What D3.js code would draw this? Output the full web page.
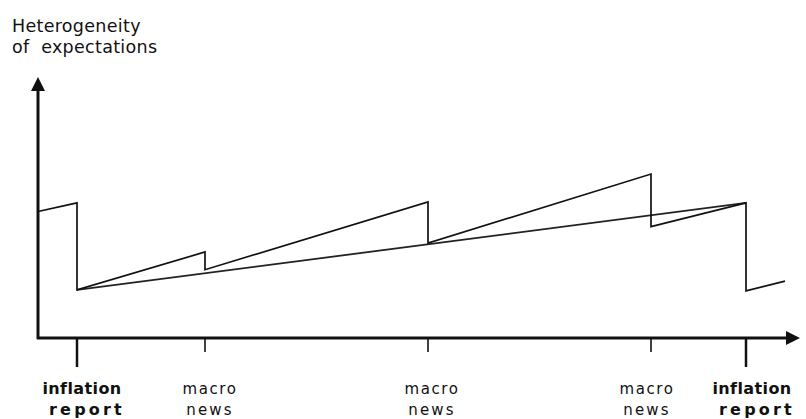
<!DOCTYPE html>
<html>
<head>
<meta charset="utf-8">
<script src="https://cdn.jsdelivr.net/npm/d3@7"></script>
<style>
  html, body { margin: 0; padding: 0; background: #fff; }
  svg { display: block; }
  text { font-family: "DejaVu Sans", Verdana, sans-serif; fill: #111; }
</style>
</head>
<body>
<svg id="chart" width="806" height="419"></svg>
<script>
// ---- data ----
const titleLines = ["Heterogeneity", "of\u00a0 expectations"];
// event times (arbitrary time units along the horizontal axis)
const eventTimes = [3.9, 16.7, 39.0, 61.3, 70.8];
const eventLabels = [["inflation", "report"], ["macro", "news"], ["macro", "news"], ["macro", "news"], ["inflation", "report"]];
const eventMajor = [true, false, false, false, true];
// sawtooth path of heterogeneity (time, value)
const sawTimes  = [0, 3.9, 3.9, 16.7, 16.7, 39.0, 39.0, 61.3, 61.3, 70.8, 70.8, 74.7];
const sawValues = [50, 53.4, 19, 34, 27, 53.8, 37.5, 64.8, 44, 53.4, 18.6, 22.5];
// smooth trend between the two inflation reports
const trendTimes  = [3.9, 70.8];
const trendValues = [19, 53.4];

// ---- layout ----
const labelShift = [[5, 10], [5, 5], [4, 4], [-4, -4], [6, 11]]; // px offsets of label lines from tick
const svg = d3.select("#chart");
const x = d3.scaleLinear().domain([0, 76]).range([38, 798]);
const y = d3.scaleLinear().domain([0, 100]).range([338, 85]);

// title
svg.selectAll("text.title").data(titleLines).join("text")
  .attr("class", "title")
  .attr("x", 12).attr("y", (d, i) => 32 + i * 21)
  .attr("font-size", 17.5).attr("letter-spacing", 0.3)
  .text(d => d);

// axes
const axisColor = "#111";
svg.append("line").attr("x1", x(0)).attr("x2", x(0)).attr("y1", y(0) + 1).attr("y2", 88)
  .attr("stroke", axisColor).attr("stroke-width", 3);
svg.append("path").attr("d", `M${x(0)},77 L${x(0) - 7},91 L${x(0) + 7},91 Z`).attr("fill", axisColor);
svg.append("line").attr("x1", x(0) - 1).attr("x2", 790).attr("y1", y(0)).attr("y2", y(0))
  .attr("stroke", axisColor).attr("stroke-width", 3);
svg.append("path").attr("d", `M800,${y(0)} L786,${y(0) - 7} L786,${y(0) + 7} Z`).attr("fill", axisColor);

// event ticks
svg.selectAll("line.tick").data(eventTimes).join("line")
  .attr("class", "tick")
  .attr("x1", d => x(d)).attr("x2", d => x(d))
  .attr("y1", y(0)).attr("y2", (d, i) => eventMajor[i] ? y(0) + 29 : y(0) + 14)
  .attr("stroke", axisColor).attr("stroke-width", (d, i) => eventMajor[i] ? 2.5 : 1.6);

// event labels
eventTimes.forEach((t, i) => {
  const g = svg.append("g");
  const major = eventMajor[i];
  eventLabels[i].forEach((s, j) => {
    g.append("text")
      .attr("x", x(t) + labelShift[i][j])
      .attr("y", 394 + j * 21)
      .attr("text-anchor", "middle")
      .attr("font-size", major ? 16 : 15)
      .attr("font-weight", major ? "bold" : "normal")
      .attr("letter-spacing", major ? (j === 0 ? 0.4 : 3.2) : (j === 0 ? 1.6 : 2.2))
      .text(s);
  });
});

// trend line
const line = d3.line().x(d => x(d[0])).y(d => y(d[1]));
svg.append("path")
  .attr("d", line(d3.zip(trendTimes, trendValues)))
  .attr("fill", "none").attr("stroke", "#222").attr("stroke-width", 1.8);

// sawtooth
svg.append("path")
  .attr("d", line(d3.zip(sawTimes, sawValues)))
  .attr("fill", "none").attr("stroke", "#111").attr("stroke-width", 1.7)
  .attr("stroke-linejoin", "miter");
</script>
</body>
</html>
